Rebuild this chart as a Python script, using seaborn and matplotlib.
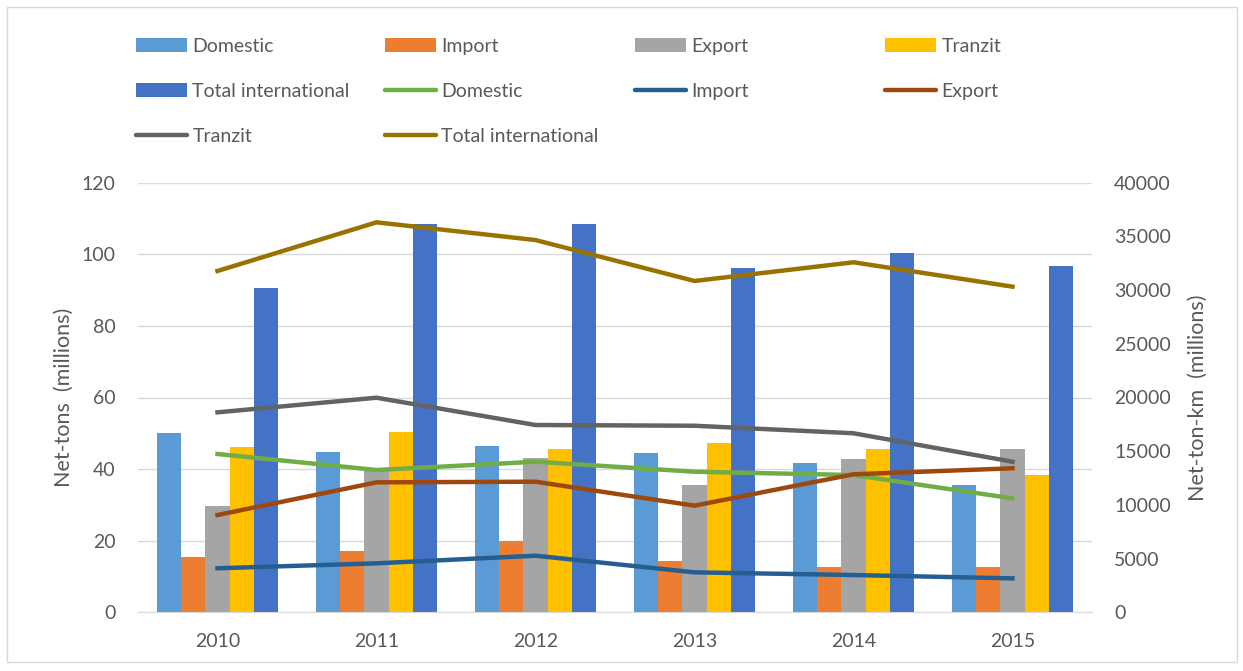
import numpy as np
import pandas as pd
import matplotlib
matplotlib.use("Agg")
import matplotlib.pyplot as plt
import seaborn as sns
from matplotlib.patches import Patch, Rectangle
from matplotlib.lines import Line2D

years = ["2010", "2011", "2012", "2013", "2014", "2015"]
series = ["Domestic", "Import", "Export", "Tranzit", "Total international"]

# Net-tons (millions) - bars, left axis
tons_domestic = [50.0, 44.9, 46.5, 44.4, 41.6, 35.6]
tons_import = [15.5, 17.1, 19.9, 14.3, 12.7, 12.7]
tons_export = [29.8, 39.8, 43.2, 35.6, 42.7, 45.5]
tons_tranzit = [46.1, 50.4, 45.5, 47.2, 45.5, 38.4]
tons_total = [90.5, 108.4, 108.4, 96.1, 100.5, 96.7]

# Net-ton-km (millions) - lines, right axis
tkm_domestic = [14740, 13250, 14020, 13090, 12780, 10610]
tkm_import = [4100, 4560, 5270, 3720, 3470, 3160]
tkm_export = [9060, 12100, 12160, 9930, 12850, 13410]
tkm_tranzit = [18620, 19980, 17440, 17370, 16670, 14020]
tkm_total = [31780, 36310, 34660, 30850, 32590, 30320]

bar_colors = ["#5B9BD5", "#ED7D31", "#A5A5A5", "#FFC000", "#4472C4"]
line_colors = ["#70AD47", "#255E91", "#9E480E", "#636363", "#997300"]

text_color = "#595959"
grid_color = "#D9D9D9"

plt.rcParams["font.family"] = ["Lato", "DejaVu Sans"]

tons = [tons_domestic, tons_import, tons_export, tons_tranzit, tons_total]
tkm = [tkm_domestic, tkm_import, tkm_export, tkm_tranzit, tkm_total]

bars_df = pd.DataFrame(
    [(y, s, v) for s, vals in zip(series, tons) for y, v in zip(years, vals)],
    columns=["Year", "Series", "Value"],
)
lines_df = pd.DataFrame(
    [(i, s, v) for s, vals in zip(series, tkm) for i, v in enumerate(vals)],
    columns=["Pos", "Series", "Value"],
)

W, H = 1243, 671
fig = plt.figure(figsize=(W / 100, H / 100), dpi=100)
fig.patch.set_facecolor("white")

left, right, top, bottom = 138, 1092, 182.7, 612.3
ax = fig.add_axes([left / W, 1 - bottom / H, (right - left) / W, (bottom - top) / H])

sns.barplot(
    data=bars_df, x="Year", y="Value", hue="Series", hue_order=series,
    palette=dict(zip(series, bar_colors)), saturation=1, width=0.76,
    ax=ax, legend=False, zorder=2,
)
ax.set_ylim(0, 120)
ax.set_yticks(np.arange(0, 121, 20))
ax.set_xlim(-0.5, len(years) - 0.5)
ax.grid(axis="y", color=grid_color, linewidth=1.0, zorder=0)
ax.set_axisbelow(True)
for s in ["top", "right", "left"]:
    ax.spines[s].set_visible(False)
ax.spines["bottom"].set_color(grid_color)
ax.tick_params(axis="both", length=0, colors=text_color, labelsize=14)
ax.tick_params(axis="y", pad=16)
ax.tick_params(axis="x", pad=15)
ax.set_xlabel("")
ax.set_ylabel("Net-tons  (millions)", color=text_color, fontsize=15.5, labelpad=6)

ax2 = ax.twinx()
sns.lineplot(
    data=lines_df, x="Pos", y="Value", hue="Series", hue_order=series,
    palette=dict(zip(series, line_colors)), linewidth=3.2, ax=ax2,
    legend=False,
)
ax2.set_ylim(0, 40000)
ax2.set_yticks(np.arange(0, 40001, 5000))
ax2.set_xlim(-0.5, len(years) - 0.5)
for s in ["top", "right", "left", "bottom"]:
    ax2.spines[s].set_visible(False)
ax2.tick_params(axis="y", length=0, colors=text_color, labelsize=14, pad=16)
ax2.set_ylabel("Net-ton-km  (millions)", color=text_color, fontsize=15.5, labelpad=12)
ax2.grid(False)

# Legend laid out row by row in four equal-width columns
entries = [("bar", i) for i in range(5)] + [("line", i) for i in range(5)]
def handle(kind, i):
    if kind == "bar":
        return Patch(facecolor=bar_colors[i], edgecolor="none")
    return Line2D([], [], color=line_colors[i], linewidth=3.2, solid_capstyle="round")

col_x = [136, 385, 635, 885]
for c in range(4):
    col_entries = entries[c::4]
    hs = [handle(k, i) for k, i in col_entries]
    ls = [series[i] for k, i in col_entries]
    fig.legend(
        hs, ls, loc="upper left", bbox_to_anchor=(col_x[c] / W, 1 - 38 / H),
        frameon=False, fontsize=14, labelcolor=text_color,
        handlelength=2.6, handleheight=0.7, handletextpad=0.3,
        labelspacing=1.43, borderpad=0, borderaxespad=0,
    )

fig.patches.append(Rectangle(
    (7 / W, 1 - 662 / H), (1237 - 7) / W, (662 - 7) / H,
    transform=fig.transFigure, fill=False, edgecolor=grid_color, linewidth=1.0,
))

fig.savefig("out.png", dpi=100)
